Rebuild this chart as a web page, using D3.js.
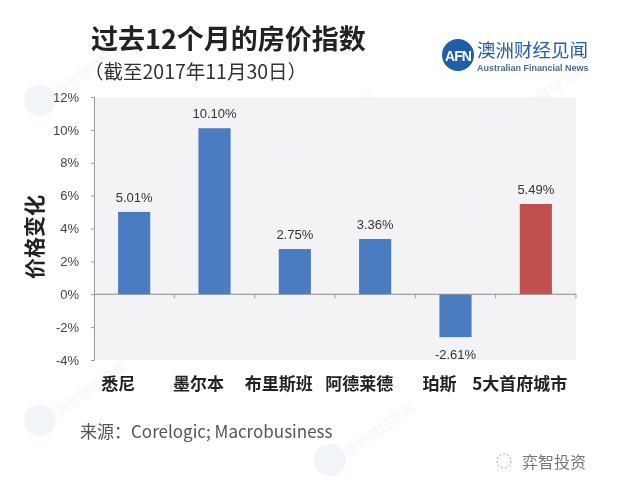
<!DOCTYPE html>
<html><head><meta charset="utf-8">
<script src="https://cdn.jsdelivr.net/npm/d3@7/dist/d3.min.js"></script>
<style>body{margin:0;background:#fff}svg{display:block}</style>
</head><body>
<svg id="c" width="640" height="490"></svg>
<script>
const categories = ["悉尼","墨尔本","布里斯班","阿德莱德","珀斯","5大首府城市"];
const values = [5.01, 10.10, 2.75, 3.36, -2.61, 5.49];
const valueLabels = ["5.01%","10.10%","2.75%","3.36%","-2.61%","5.49%"];
const yTicks = [-4,-2,0,2,4,6,8,10,12];
const highlight = [false,false,false,false,false,true];

const svg = d3.select("#c");
const font = "'Noto Sans CJK SC','Noto Sans',sans-serif";
const L = 94, R = 576, T = 97, B = 360;

// faint background watermarks
const wm = [[40,100],[290,150],[500,120],[40,420],[330,460],[130,300],[480,300],[300,300],[470,210]];
const wg = svg.append("g").attr("opacity",0.06);
wm.forEach(([cx,cy])=>{
  wg.append("circle").attr("cx",cx).attr("cy",cy).attr("r",16).attr("fill","#1f5fa8");
  wg.append("text").attr("transform",`translate(${cx+18},${cy-2}) rotate(-35)`).attr("font-size",14)
    .attr("fill","#1f5fa8").attr("font-family",font).text("澳洲财经见闻");
});

svg.append("rect").attr("x",L).attr("y",T).attr("width",R-L).attr("height",B-T).attr("fill","#f2f2f5").attr("fill-opacity",0.92);

const x = d3.scaleBand().domain(categories).range([L,R]).paddingInner(0.6).paddingOuter(0.3);
const y = d3.scaleLinear().domain([-4,12]).range([B,T]);

// y axis
const ya = svg.append("g").attr("transform",`translate(${L},0)`)
  .call(d3.axisLeft(y).tickValues(yTicks).tickFormat(d=>d+"%").tickSize(3).tickPadding(12));
ya.select(".domain").attr("stroke","#999");
ya.selectAll(".tick line").attr("stroke","#999");
ya.selectAll(".tick text").attr("fill","#444").attr("font-size",13).attr("font-family","'Liberation Sans',Arial,sans-serif");

// bars
svg.selectAll("rect.bar").data(values).enter().append("rect")
  .attr("x",(d,i)=>x(categories[i]))
  .attr("width",x.bandwidth())
  .attr("y",d=>y(Math.max(0,d)))
  .attr("height",d=>Math.abs(y(d)-y(0)))
  .attr("fill",(d,i)=>highlight[i]?"#c0504d":"#4a7cc1");

// zero line with category boundary ticks
svg.append("line").attr("x1",L).attr("x2",R).attr("y1",y(0)).attr("y2",y(0)).attr("stroke","#8a8a8a").attr("stroke-width",1.2);
const bounds = d3.range(1,categories.length+1).map(i=>L+ (R-L)/categories.length*i);
svg.selectAll("line.bt").data(bounds).enter().append("line")
  .attr("x1",d=>d).attr("x2",d=>d).attr("y1",y(0)).attr("y2",y(0)+4).attr("stroke","#999");

// value labels
svg.selectAll("text.v").data(values).enter().append("text")
  .attr("x",(d,i)=>x(categories[i])+x.bandwidth()/2)
  .attr("y",d=> d>=0 ? y(d)-10 : y(d)+22)
  .attr("text-anchor","middle").attr("font-size",13).attr("fill","#333")
  .attr("font-family","'Liberation Sans',Arial,sans-serif")
  .text((d,i)=>valueLabels[i]);

// category labels (shifted left as in the reference image)
svg.selectAll("text.cat").data(categories).enter().append("text")
  .attr("x",d=>x(d)+x.bandwidth()/2-16).attr("y",390)
  .attr("text-anchor","middle").attr("font-size",17).attr("font-weight","bold")
  .attr("fill","#222").attr("font-family",font).text(d=>d);

// y label
svg.append("text").attr("transform","translate(42,237) rotate(-90)")
  .attr("text-anchor","middle").attr("font-size",21).attr("font-weight","bold")
  .attr("fill","#222").attr("font-family",font).text("价格变化");

// title
svg.append("text").attr("x",91).attr("y",49).attr("font-size",27).attr("font-weight","bold")
  .attr("fill","#222").attr("font-family",font).text("过去12个月的房价指数");
svg.append("text").attr("x",84).attr("y",79).attr("font-size",19.5)
  .attr("fill","#333").attr("font-family",font).text("（截至2017年11月30日）");

// logo
svg.append("circle").attr("cx",458).attr("cy",55).attr("r",16).attr("fill","#1f5fa8");
svg.append("text").attr("x",458).attr("y",61).attr("text-anchor","middle").attr("font-size",14)
  .attr("font-weight","bold").attr("fill","#fff").attr("font-family","'Liberation Sans',Arial,sans-serif")
  .attr("letter-spacing",-1).text("AFN");
svg.append("text").attr("x",477).attr("y",57).attr("font-size",18.5).attr("fill","#1f5fa8")
  .attr("font-family",font).text("澳洲财经见闻");
svg.append("text").attr("x",477).attr("y",71).attr("font-size",9).attr("font-weight","bold").attr("fill","#4a6a90")
  .attr("font-family","'Liberation Sans',Arial,sans-serif").text("Australian Financial News");

// source
svg.append("text").attr("x",80).attr("y",438).attr("font-size",17).attr("fill","#555")
  .attr("font-family",font).text("来源：Corelogic; Macrobusiness");

// watermark bottom right
svg.append("circle").attr("cx",504).attr("cy",461).attr("r",7).attr("fill","none").attr("stroke","#999").attr("stroke-dasharray","2,2");
svg.append("text").attr("x",522).attr("y",468).attr("font-size",16).attr("fill","#777")
  .attr("font-family",font).text("弈智投资");
</script>
</body></html>
